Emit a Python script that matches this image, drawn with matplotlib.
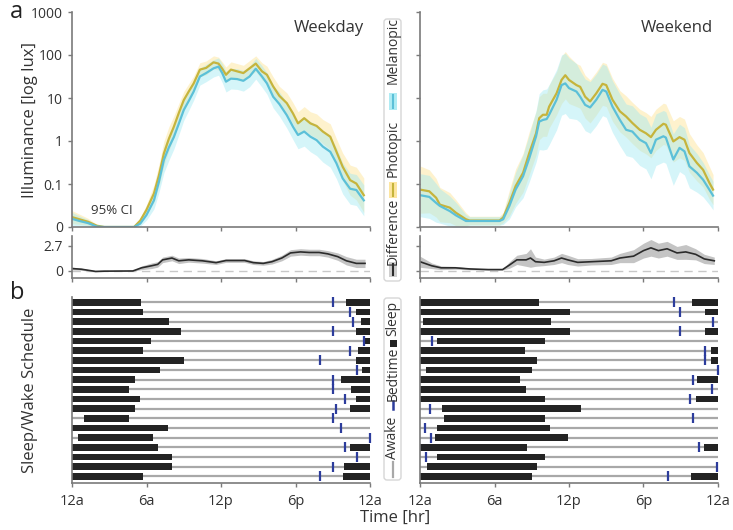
import numpy as np
import matplotlib
matplotlib.use('Agg')
import matplotlib.pyplot as plt
from matplotlib.patches import FancyBboxPatch, Rectangle

plt.rcParams['font.family'] = ['Open Sans', 'DejaVu Sans']

W, H = 733, 530

# ---------------- illuminance (log10 lux) ----------------
wd_t = [0.0, 0.6, 1.3, 2.0, 2.6, 5.0, 5.5, 6.0, 6.6, 7.0, 7.4, 7.8, 8.2, 8.6, 9.0,
        9.4, 9.8, 10.3, 10.8, 11.4, 11.8, 12.1, 12.4, 12.8, 13.3, 13.8, 14.3, 14.8,
        15.3, 15.7, 16.2, 16.7, 17.3, 17.8, 18.2, 18.7, 19.2, 19.7, 20.2, 20.8,
        21.3, 21.8, 22.4, 22.9, 23.5]
wd_phot = [-1.77, -1.82, -1.88, -1.97, -2.0, -2.0, -1.85, -1.6, -1.22, -0.8, -0.29,
           0.05, 0.33, 0.65, 0.95, 1.15, 1.34, 1.66, 1.70, 1.83, 1.80, 1.68, 1.54,
           1.66, 1.62, 1.58, 1.69, 1.80, 1.62, 1.54, 1.27, 1.05, 0.88, 0.64, 0.41,
           0.53, 0.41, 0.35, 0.22, 0.10, -0.25, -0.60, -0.91, -0.99, -1.26]
wd_mel = [-1.81, -1.86, -1.91, -1.99, -2.0, -2.0, -1.92, -1.72, -1.38, -0.95, -0.44,
          -0.15, 0.09, 0.40, 0.72, 0.93, 1.15, 1.50, 1.58, 1.69, 1.73, 1.58, 1.38,
          1.45, 1.44, 1.40, 1.50, 1.68, 1.50, 1.34, 1.03, 0.86, 0.60, 0.33, 0.14,
          0.22, 0.10, 0.02, -0.13, -0.25, -0.52, -0.87, -1.11, -1.14, -1.38]
wd_phot_ci = [0.15, 0.12, 0.08, 0.03, 0.01, 0.01, 0.06, 0.12, 0.2, 0.25, 0.28, 0.28,
              0.25, 0.22, 0.2, 0.18, 0.17, 0.16, 0.16, 0.15, 0.15, 0.16, 0.18, 0.18,
              0.18, 0.18, 0.18, 0.18, 0.2, 0.2, 0.22, 0.22, 0.24, 0.25, 0.27, 0.27,
              0.27, 0.28, 0.28, 0.3, 0.3, 0.32, 0.35, 0.38, 0.4]
wd_mel_ci = [0.15, 0.12, 0.08, 0.03, 0.01, 0.01, 0.06, 0.12, 0.2, 0.25, 0.3, 0.3,
             0.28, 0.26, 0.24, 0.22, 0.2, 0.2, 0.2, 0.2, 0.2, 0.22, 0.24, 0.24, 0.24,
             0.24, 0.24, 0.24, 0.25, 0.25, 0.26, 0.28, 0.3, 0.3, 0.32, 0.34, 0.35,
             0.36, 0.36, 0.36, 0.36, 0.36, 0.36, 0.36, 0.36]

we_t = [0.0, 0.75, 1.3, 1.6, 2.4, 2.9, 3.7, 4.0, 6.4, 6.7, 7.2, 7.7, 8.3, 8.8, 9.35,
        9.6, 9.9, 10.2, 10.4, 11.0, 11.4, 11.7, 12.0, 12.6, 12.9, 13.3, 13.7, 14.2,
        14.7, 15.0, 15.5, 16.1, 16.6, 17.1, 17.7, 18.2, 18.6, 19.0, 19.6, 19.8, 20.4,
        20.9, 21.3, 21.7, 22.3, 22.8, 23.3, 23.6]
we_phot = [-1.13, -1.17, -1.32, -1.48, -1.55, -1.67, -1.82, -1.85, -1.85, -1.78, -1.44,
           -1.05, -0.74, -0.28, 0.18, 0.53, 0.61, 0.61, 0.80, 1.11, 1.42, 1.53, 1.42,
           1.30, 1.26, 1.03, 0.92, 1.11, 1.33, 1.30, 0.96, 0.69, 0.57, 0.42, 0.26,
           0.18, 0.09, 0.26, 0.40, 0.38, -0.01, 0.09, 0.03, -0.28, -0.51, -0.67,
           -0.97, -1.13]
we_mel = [-1.26, -1.30, -1.44, -1.51, -1.63, -1.73, -1.86, -1.86, -1.86, -1.82, -1.51,
          -1.13, -0.82, -0.40, 0.11, 0.45, 0.49, 0.51, 0.61, 0.96, 1.30, 1.34, 1.23,
          1.15, 1.03, 0.84, 0.78, 0.96, 1.19, 1.15, 0.80, 0.49, 0.26, 0.22, 0.03,
          -0.05, -0.28, 0.03, 0.11, 0.08, -0.43, -0.16, -0.24, -0.59, -0.74, -0.90,
          -1.13, -1.27]
we_phot_ci = [0.55, 0.5, 0.45, 0.4, 0.35, 0.3, 0.15, 0.1, 0.1, 0.12, 0.3, 0.4, 0.45,
              0.5, 0.5, 0.5, 0.5, 0.5, 0.5, 0.5, 0.55, 0.55, 0.55, 0.5, 0.5, 0.5, 0.5,
              0.5, 0.5, 0.5, 0.5, 0.48, 0.48, 0.48, 0.48, 0.48, 0.48, 0.48, 0.48, 0.48,
              0.48, 0.48, 0.48, 0.45, 0.42, 0.4, 0.38, 0.35]
we_mel_ci = [0.5, 0.5, 0.45, 0.4, 0.35, 0.3, 0.15, 0.1, 0.1, 0.12, 0.3, 0.4, 0.5, 0.55,
             0.6, 0.65, 0.7, 0.7, 0.7, 0.7, 0.7, 0.7, 0.7, 0.65, 0.6, 0.6, 0.6, 0.6,
             0.6, 0.6, 0.6, 0.6, 0.6, 0.6, 0.6, 0.6, 0.6, 0.6, 0.6, 0.6, 0.6, 0.55,
             0.55, 0.5, 0.45, 0.4, 0.35, 0.33]

# ---------------- difference ----------------
wd_diff_t = [0.0, 0.75, 1.9, 2.6, 4.9, 5.6, 6.4, 6.9, 7.3, 8.05, 8.6, 9.4, 10.5, 11.6,
             12.4, 13.9, 14.6, 15.4, 16.1, 16.9, 17.6, 18.4, 19.1, 19.9, 20.6, 21.4,
             22.1, 22.9, 23.6]
wd_diff = [0.26, 0.19, -0.05, -0.02, 0.0, 0.34, 0.56, 0.71, 1.2, 1.4, 1.1, 1.2, 1.1,
           0.9, 1.13, 1.13, 0.9, 0.82, 1.0, 1.4, 1.95, 2.06, 2.0, 2.0, 1.85, 1.55,
           1.1, 0.82, 0.82]
wd_diff_ci = [0.15, 0.12, 0.05, 0.03, 0.03, 0.2, 0.3, 0.3, 0.3, 0.3, 0.3, 0.25, 0.25,
              0.2, 0.2, 0.2, 0.2, 0.2, 0.25, 0.3, 0.35, 0.35, 0.35, 0.35, 0.35, 0.4,
              0.45, 0.45, 0.45]
we_diff_t = [0.0, 0.95, 1.7, 2.85, 4.0, 5.5, 6.65, 7.2, 7.8, 8.55, 8.9, 9.3, 10.0, 10.8,
             11.4, 11.9, 12.7, 13.8, 15.4, 16.1, 17.2, 18.0, 18.6, 19.2, 19.9, 20.7,
             21.4, 22.2, 22.9, 23.7]
we_diff = [1.0, 0.56, 0.34, 0.34, 0.22, 0.15, 0.15, 0.64, 1.2, 1.2, 1.4, 1.0, 0.93, 1.1,
           1.4, 1.2, 0.93, 1.0, 1.1, 1.4, 1.6, 2.2, 2.5, 2.2, 2.4, 1.95, 2.06, 1.8, 1.3,
           1.1]
we_diff_ci = [0.6, 0.3, 0.2, 0.15, 0.1, 0.05, 0.05, 0.35, 0.5, 0.7, 1.0, 0.5, 0.35, 0.4,
              0.5, 0.5, 0.4, 0.35, 0.4, 0.5, 0.7, 0.8, 0.9, 0.8, 0.8, 0.7, 0.8, 0.6,
              0.5, 0.4]

# ---------------- sleep / wake schedule (hours) ----------------
nan = np.nan
wd_onset = [0, 0, 0, 0, 0, 0, 0, 0, 0, 0, 0, 0, 0.94, 0, 0.48, 0, 0, 0, 0]
wd_wake = [5.58, 5.7, 7.85, 8.77, 6.38, 5.7, 9.06, 7.05, 5.09, 4.58, 5.44, 5.09, 4.58,
           7.77, 6.49, 6.89, 8.04, 8.04, 5.7]
wd_bed = [21.0, 22.4, 22.6, 21.0, 23.48, 22.4, 19.97, 22.92, 21.0, 21.0, 22.0, 21.23,
          21.0, 21.66, 24.0, 22.0, 22.97, 21.0, 19.97]
wd_evening = [22.1, 22.9, 23.27, 22.9, 23.55, 23.05, 22.9, 23.38, 21.66, 22.5, 22.9,
              22.4, nan, nan, nan, 22.4, nan, 21.88, 21.82]

we_onset = [0, 0, 0.21, 0, 1.34, 0, 0, 0.46, 0, 0, 0, 1.8, 1.93, 1.39, 1.18, 0, 1.34,
            0.54, 0]
we_wake = [9.57, 12.07, 10.54, 12.07, 10.05, 8.47, 9.46, 9.06, 8.07, 8.5, 10.05, 13.0,
           10.05, 10.43, 11.93, 8.58, 10.05, 9.41, 8.98]
we_bed = [20.46, 20.97, 23.62, 20.97, 0.99, 22.97, 22.97, 24.0, 21.98, 23.49, 21.72,
          0.8, 21.98, 0.4, 0.86, 22.47, 0.48, 23.9, 19.97]
we_evening = [21.93, 22.93, nan, 22.93, nan, 23.4, 23.4, nan, 22.3, nan, 22.2, nan, nan,
              nan, nan, 22.87, nan, nan, 21.85]

time_ticks = [0, 6, 12, 18, 24]
time_labels = ['12a', '6a', '12p', '6p', '12a']
lux_ticks = [0.01, 0.1, 1, 10, 100, 1000]
lux_labels = ['0', '0.1', '1', '10', '100', '1000']

PHOT, PHOT_BAND = '#c6b43c', '#fde08a'
MEL, MEL_BAND = '#5cc0d8', '#9be8f2'
SPINE = '#7a7a7a'

fig = plt.figure(figsize=(W / 100, H / 100), dpi=100)


def px_axes(x0, y0, x1, y1):
    return fig.add_axes([x0 / W, 1 - y1 / H, (x1 - x0) / W, (y1 - y0) / H])


def style(ax):
    for s in ['top', 'right']:
        ax.spines[s].set_visible(False)
    for s in ['left', 'bottom']:
        ax.spines[s].set_color(SPINE)
        ax.spines[s].set_linewidth(1.2)
    ax.tick_params(colors=SPINE, labelcolor='#333333', labelsize=10, length=3, width=1)


def lux_panel(ax, t, phot, mel, phot_ci, mel_ci, show_labels):
    t = np.array(t)
    for vals, ci, bc in [(phot, phot_ci, PHOT_BAND), (mel, mel_ci, MEL_BAND)]:
        v, c = np.array(vals), np.array(ci)
        ax.fill_between(t, 10 ** (v - c), 10 ** (v + c), color=bc, alpha=0.42, lw=0)
    ax.plot(t, 10 ** np.array(phot), color=PHOT, lw=1.6)
    ax.plot(t, 10 ** np.array(mel), color=MEL, lw=1.6)
    ax.set_yscale('log')
    ax.set_ylim(0.01, 1000)
    ax.set_xlim(0, 24)
    ax.set_yticks(lux_ticks)
    ax.set_yticks([], minor=True)
    ax.set_yticklabels(lux_labels if show_labels else [])
    ax.set_xticks(time_ticks)
    ax.set_xticklabels([])
    style(ax)


def diff_panel(ax, t, d, ci, show_labels):
    t, d, ci = np.array(t), np.array(d), np.array(ci)
    ax.axhline(0, color='#c8c8c8', lw=1, ls=(0, (6, 4)))
    ax.fill_between(t, d - ci, d + ci, color='#c4c4c4', lw=0)
    ax.plot(t, d, color='#2b2b2b', lw=1.2)
    ax.set_xlim(0, 24)
    ax.set_ylim(-0.76, 3.78)
    ax.set_yticks([0, 2.7])
    ax.set_yticklabels(['0', '2.7'] if show_labels else [])
    ax.set_xticks(time_ticks)
    ax.set_xticklabels([])
    style(ax)


def sched_panel(ax, onset, wake, bed, evening):
    rows = np.arange(len(wake))
    ax.hlines(rows, 0, 24, color='#a8a8a8', lw=1.6, zorder=1)
    ax.barh(rows, np.array(wake) - np.array(onset), left=onset, height=0.68,
            color='#232323', zorder=2)
    ev = np.array(evening)
    m = ~np.isnan(ev)
    ax.barh(rows[m], 24 - ev[m], left=ev[m], height=0.68, color='#232323', zorder=2)
    ax.plot(bed, rows, ls='none', marker='|', ms=7, mew=1.6, color='#2c3c9c',
            zorder=3, clip_on=False)
    ax.set_xlim(0, 24)
    ax.set_ylim(len(wake) - 0.3, -0.55)
    ax.set_yticks([])
    ax.set_xticks(time_ticks)
    ax.set_xticklabels(time_labels)
    style(ax)
    ax.tick_params(axis='x', labelsize=10.5, pad=5)


ax1 = px_axes(72, 12, 370, 227)
lux_panel(ax1, wd_t, wd_phot, wd_mel, wd_phot_ci, wd_mel_ci, True)
ax2 = px_axes(420, 12, 718, 227)
lux_panel(ax2, we_t, we_phot, we_mel, we_phot_ci, we_mel_ci, False)

ax3 = px_axes(72, 236, 370, 278)
diff_panel(ax3, wd_diff_t, wd_diff, wd_diff_ci, True)
ax4 = px_axes(420, 236, 718, 278)
diff_panel(ax4, we_diff_t, we_diff, we_diff_ci, False)

ax5 = px_axes(72, 297, 370, 483)
sched_panel(ax5, wd_onset, wd_wake, wd_bed, wd_evening)
ax6 = px_axes(420, 297, 718, 483)
sched_panel(ax6, we_onset, we_wake, we_bed, we_evening)

# ---------------- vertical legends (pixel coords) ----------------
lg = px_axes(378, 10, 408, 290)
lg.set_xlim(378, 408)
lg.set_ylim(290, 10)
lg.axis('off')
lg.add_patch(FancyBboxPatch((384, 19), 17, 262, boxstyle='round,pad=0,rounding_size=3',
                            fc='white', ec='#d6d6d6', lw=1))
for txt, yc in [('Melanopic', 51), ('Photopic', 148), ('Difference', 231)]:
    lg.text(393, yc, txt, rotation=90, ha='center', va='center', fontsize=10, color='#333333')
for (y0, y1), fc, lc in [((93, 110), MEL_BAND, MEL), ((182, 198), PHOT_BAND, PHOT),
                         ((262, 277), '#c4c4c4', '#2b2b2b')]:
    lg.add_patch(Rectangle((389, y0), 8, y1 - y0, fc=fc, ec='none', alpha=0.8))
    lg.plot([393, 393], [y0 + 2, y1 - 2], color=lc, lw=1.5)

lg2 = px_axes(378, 292, 408, 486)
lg2.set_xlim(378, 408)
lg2.set_ylim(486, 292)
lg2.axis('off')
lg2.add_patch(FancyBboxPatch((384, 298), 17, 182, boxstyle='round,pad=0,rounding_size=3',
                             fc='white', ec='#d6d6d6', lw=1))
for txt, yc in [('Sleep', 318), ('Bedtime', 374), ('Awake', 438)]:
    lg2.text(393, yc, txt, rotation=90, ha='center', va='center', fontsize=10, color='#333333')
lg2.add_patch(Rectangle((390, 340), 7, 7, fc='#232323', ec='none'))
lg2.plot([393, 393], [401, 409], color='#2c3c9c', lw=1.8)
lg2.plot([393, 393], [462, 477], color='#a8a8a8', lw=1.6)

# ---------------- texts ----------------
def ftext(x, y, s, **kw):
    fig.text(x / W, 1 - y / H, s, **kw)


ftext(10, 12, 'a', fontsize=17, ha='left', va='center', color='#222222')
ftext(10, 293, 'b', fontsize=17, ha='left', va='center', color='#222222')
ftext(30, 120, 'Illuminance [log lux]', rotation=90, fontsize=12, ha='center', va='center',
      color='#333333')
ftext(30, 390, 'Sleep/Wake Schedule', rotation=90, fontsize=12, ha='center', va='center',
      color='#333333')
ftext(329, 28, 'Weekday', fontsize=12, ha='center', va='center', color='#333333')
ftext(677, 28, 'Weekend', fontsize=12, ha='center', va='center', color='#333333')
ftext(112, 210, '95% CI', fontsize=9.5, ha='center', va='center', color='#333333')
ftext(395, 518, 'Time [hr]', fontsize=12, ha='center', va='center', color='#333333')

fig.savefig('out.png', dpi=100, facecolor='white')
